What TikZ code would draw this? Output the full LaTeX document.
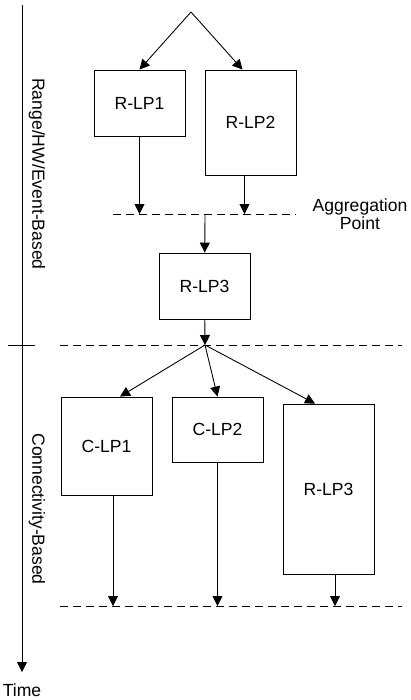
\documentclass[tikz,border=0pt]{standalone}
\usepackage{fontspec}
\setmainfont{Liberation Sans}
\usetikzlibrary{arrows.meta,calc}

\begin{document}
\begin{tikzpicture}[x=0.02cm, y=-0.02cm, line width=0.5pt,
  font=\fontsize{10}{10.5}\selectfont,
  box/.style={draw, rectangle, minimum width=1.82cm, inner sep=0pt},
  flow/.style={-{Triangle[length=2mm,width=2mm]}},
  level/.style={dash pattern=on 0.16cm off 0.1cm}]
\useasboundingbox (0,0) rectangle (410,700);

% Time axis
\coordinate (ttop) at (22,5);
\coordinate (tend) at (22,672);
\node[inner sep=1pt] (time) at (22,690) {Time};
\coordinate (tickL) at (8,345);
\coordinate (tickR) at (35,345);
\node[rotate=-90] (rangelbl) at (37,174) {Range/HW/Event-Based};
\node[rotate=-90] (connlbl) at (37,509) {Connectivity-Based};

% Boxes
\node[box, minimum height=1.32cm] (rlp1) at (139.5,103) {R-LP1};
\node[box, minimum height=2.1cm] (rlp2) at (250.5,122.5) {R-LP2};
\node[box, minimum height=1.32cm] (rlp3) at (204.5,286) {R-LP3};
\node[box, minimum height=1.96cm] (clp1) at (106.5,446) {C-LP1};
\node[box, minimum height=1.3cm] (clp2) at (217.5,429.5) {C-LP2};
\node[box, minimum height=3.4cm] (rlp3b) at (328.5,489) {R-LP3};
\node[align=center] (aggtxt) at (360,214) {Aggregation\\Point};

% Levels
\coordinate (src) at (191,12);
\coordinate (agg1L) at (113,214);
\coordinate (agg1R) at (296,214);
\coordinate (merge) at (205,214);
\coordinate (lvl2L) at (60,345);
\coordinate (lvl2R) at (402,345);
\coordinate (split) at (205,345);
\coordinate (lvl3L) at (60,606);
\coordinate (lvl3R) at (402,606);

\draw[level] (agg1L) -- (agg1R);
\draw[level] (lvl2L) -- (lvl2R);
\draw[level] (lvl3L) -- (lvl3R);
\draw (tickL) -- (tickR);
\draw[flow] (ttop) -- (tend);

% Flows
\draw[flow] (src) -- (rlp1.north);
\draw[flow] (src) -- ([xshift=-0.16cm]rlp2.north);
\draw[flow] (rlp1.south) -- (rlp1.south |- merge);
\draw[flow] ([xshift=-0.12cm]rlp2.south) -- ([xshift=-0.12cm]rlp2.south |- merge);
\draw[flow] (merge) -- (rlp3);
\draw[flow] (rlp3) -- (split);
\draw[flow] (split) -- ([xshift=0.27cm]clp1.north);
\draw[flow] (split) -- (clp2.north);
\draw[flow] (split) -- ([xshift=-0.27cm]rlp3b.north);
\draw[flow] ([xshift=0.13cm]clp1.south) -- ([xshift=0.13cm]clp1.south |- lvl3L);
\draw[flow] (clp2.south) -- (clp2.south |- lvl3L);
\draw[flow] ([xshift=0.13cm]rlp3b.south) -- ([xshift=0.13cm]rlp3b.south |- lvl3L);

\end{tikzpicture}
\end{document}
